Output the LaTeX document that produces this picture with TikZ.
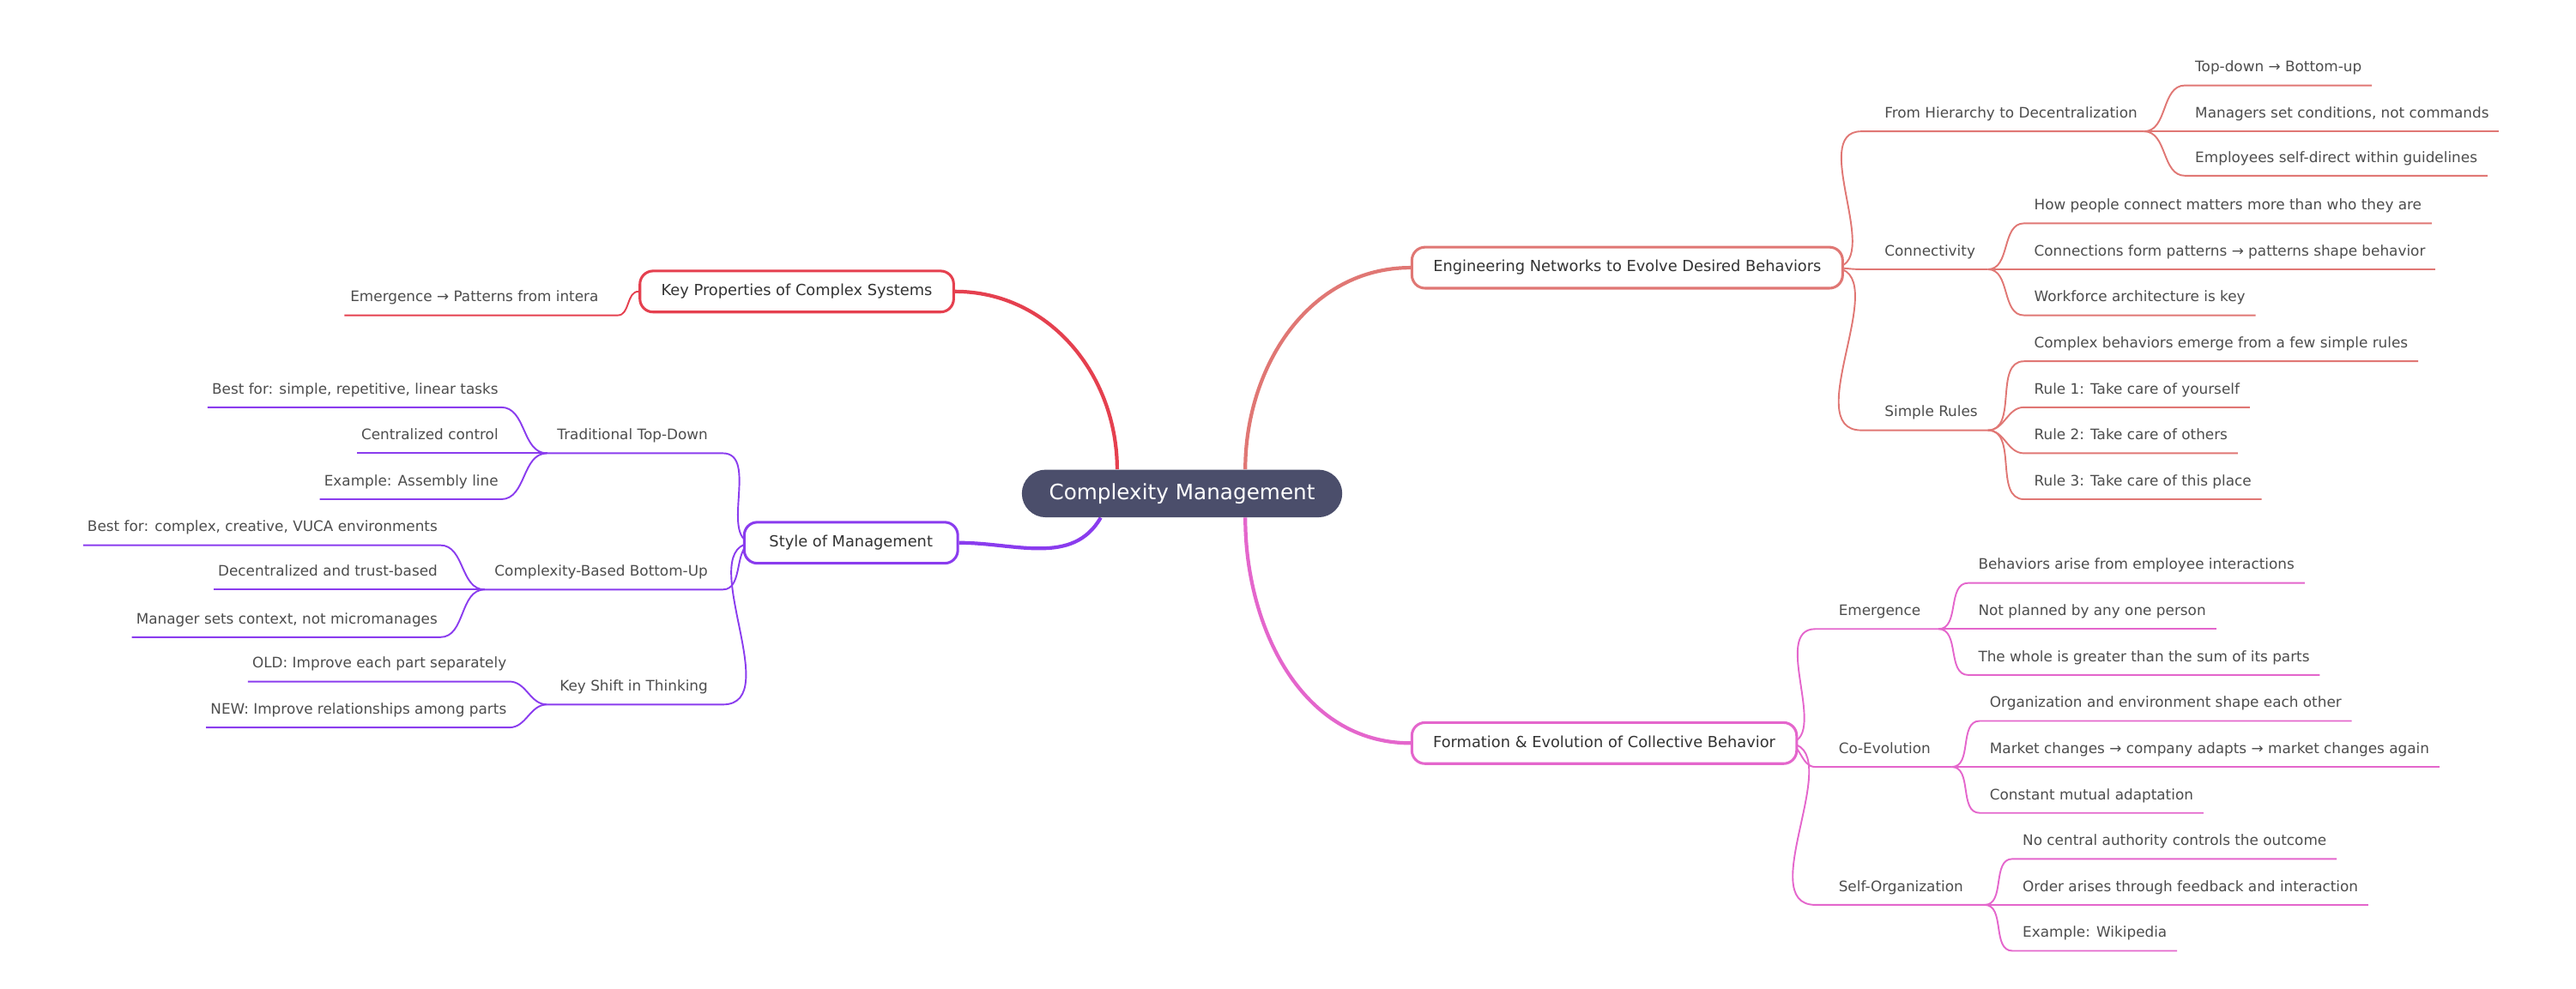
\documentclass[tikz,border=0pt]{standalone}
\usepackage{fontspec}
\setmainfont{DejaVu Sans}
\usetikzlibrary{backgrounds}
\definecolor{cA}{HTML}{E07774}
\definecolor{cB}{HTML}{E466CC}
\definecolor{cC}{HTML}{E5404F}
\definecolor{cD}{HTML}{8A3CEE}
\definecolor{rootc}{HTML}{4B4E6B}
\definecolor{txt}{HTML}{4D4D4D}
\definecolor{txt2}{HTML}{333333}
\tikzset{
 leaf/.style={font=\fontsize{8.8}{10}\selectfont, text=txt, inner xsep=6pt, inner ysep=6pt, text height=7pt, text depth=2pt},
 lr/.style={leaf, anchor=south west},
 ll/.style={leaf, anchor=south east, inner xsep=1.5pt},
 subr/.style={leaf, anchor=south west, inner xsep=14pt},
 subl/.style={leaf, anchor=south east, inner xsep=9pt},
 br/.style={draw, line width=1.6pt, rounded corners=8pt, fill=white, minimum height=25pt, font=\fontsize{9.3}{11}\selectfont, text=txt2, inner xsep=13pt, text height=7pt, text depth=2pt},
 con/.style={line width=1pt},
 main/.style={line width=2.2pt},
}
\begin{document}
\begin{tikzpicture}[x=1pt,y=-1pt]
\useasboundingbox (0,0) rectangle (1568,602);
% root
\node[fill=rootc, text=white, font=\fontsize{12.9}{15}\selectfont, minimum width=195pt, minimum height=29pt, rounded corners=14.5pt, inner sep=0pt] (root) at (719.5,300.5) {Complexity Management};
% branches
\node[br, draw=cA] (b1) at (990.5,163) {Engineering Networks to Evolve Desired Behaviors};
\node[br, draw=cB] (b2) at (976.5,452.5) {Formation \& Evolution of Collective Behavior};
\node[br, draw=cC] (b3) at (485,177.5) {Key Properties of Complex Systems};
\node[br, draw=cD, minimum width=130pt] (b4) at (518,330.5) {Style of Management};

% ---- branch A subs
\node[subr] (s11) at (1133,80) {From Hierarchy to Decentralization};
\coordinate (j11) at (1305,80);
\node[subr] (s12) at (1133,164) {Connectivity};
\coordinate (j12) at (1210,164);
\node[subr] (s13) at (1133,262) {Simple Rules};
\coordinate (j13) at (1210,262);
\node[lr] (l111) at (1330,52) {Top-down → Bottom-up};
\node[lr] (l112) at (1330,80) {Managers set conditions, not commands};
\node[lr] (l113) at (1330,107) {Employees self-direct within guidelines};
\node[lr] (l121) at (1232,136) {How people connect matters more than who they are};
\node[lr] (l122) at (1232,164) {Connections form patterns → patterns shape behavior};
\node[lr] (l123) at (1232,192) {Workforce architecture is key};
\node[lr] (l131) at (1232,220) {Complex behaviors emerge from a few simple rules};
\node[lr] (l132) at (1232,248) {Rule 1: Take care of yourself};
\node[lr] (l133) at (1232,276) {Rule 2: Take care of others};
\node[lr] (l134) at (1232,304) {Rule 3: Take care of this place};

% ---- branch B subs
\node[subr] (s21) at (1105,383) {Emergence};
\coordinate (j21) at (1180,383);
\node[subr] (s22) at (1105,467) {Co-Evolution};
\coordinate (j22) at (1188,467);
\node[subr] (s23) at (1105,551) {Self-Organization};
\coordinate (j23) at (1208,551);
\node[lr] (l211) at (1198,355) {Behaviors arise from employee interactions};
\node[lr] (l212) at (1198,383) {Not planned by any one person};
\node[lr] (l213) at (1198,411) {The whole is greater than the sum of its parts};
\node[lr] (l221) at (1205,439) {Organization and environment shape each other};
\node[lr] (l222) at (1205,467) {Market changes → company adapts → market changes again};
\node[lr] (l223) at (1205,495) {Constant mutual adaptation};
\node[lr] (l231) at (1225,523) {No central authority controls the outcome};
\node[lr] (l232) at (1225,551) {Order arises through feedback and interaction};
\node[lr] (l233) at (1225,579) {Example: Wikipedia};

% ---- branch C
\node[ll] (l31) at (366,192) {Emergence → Patterns from intera};
\coordinate (e31) at (376,192);

% ---- branch D subs
\node[subl] (s41) at (440,276) {Traditional Top-Down};
\coordinate (j41) at (333,276);
\node[subl] (s42) at (440,359) {Complexity-Based Bottom-Up};
\coordinate (j42) at (295,359);
\node[subl] (s43) at (440,429) {Key Shift in Thinking};
\coordinate (j43) at (333,429);
\node[ll] (l411) at (305,248) {Best for: simple, repetitive, linear tasks};
\node[ll] (l412) at (305,276) {Centralized control};
\node[ll] (l413) at (305,304) {Example: Assembly line};
\node[ll] (l421) at (268,332) {Best for: complex, creative, VUCA environments};
\node[ll] (l422) at (268,359) {Decentralized and trust-based};
\node[ll] (l423) at (268,388) {Manager sets context, not micromanages};
\node[ll] (l431) at (310,415) {OLD: Improve each part separately};
\node[ll] (l432) at (310,443) {NEW: Improve relationships among parts};

\begin{scope}[on background layer]
\draw[cA,main] ([xshift=38.5pt]root.north) to[out=90,in=180] (b1.west);
\draw[cC,main] ([xshift=-39.5pt]root.north) to[out=90,in=0] (b3.east);
\draw[cD,main] ([xshift=-49.5pt]root.south) to[out=240,in=0] (b4.east);
\draw[cB,main] ([xshift=38.5pt]root.south) to[out=-90,in=180] (b2.west);

\foreach \s/\j in {s11/j11,s12/j12,s13/j13}
  \draw[cA,con] ([xshift=-7pt]b1.east) to[out=0,in=180] (\s.south west) -- (\j);
\foreach \s/\j in {s21/j21,s22/j22,s23/j23}
  \draw[cB,con] ([xshift=-7pt]b2.east) to[out=0,in=180] (\s.south west) -- (\j);
\foreach \j/\l in {j11/l111,j11/l112,j11/l113,j12/l121,j12/l122,j12/l123,j13/l131,j13/l132,j13/l133,j13/l134}
  \draw[cA,con] (\j) to[out=0,in=180] (\l.south west) -- (\l.south east);
\foreach \j/\l in {j21/l211,j21/l212,j21/l213,j22/l221,j22/l222,j22/l223,j23/l231,j23/l232,j23/l233}
  \draw[cB,con] (\j) to[out=0,in=180] (\l.south west) -- (\l.south east);

\draw[cC,con] (b3.west) to[out=180,in=0] (e31) -- ([xshift=-2pt]l31.south west);

\foreach \s/\j in {s41/j41,s42/j42,s43/j43}
  \draw[cD,con] ([xshift=7pt]b4.west) to[out=180,in=0] (\s.south east) -- (\j);
\foreach \j/\l in {j41/l411,j41/l412,j41/l413,j42/l421,j42/l422,j42/l423,j43/l431,j43/l432}
  \draw[cD,con] (\j) to[out=180,in=0] (\l.south east) -- ([xshift=-1pt]\l.south west);
\end{scope}
\end{tikzpicture}
\end{document}
